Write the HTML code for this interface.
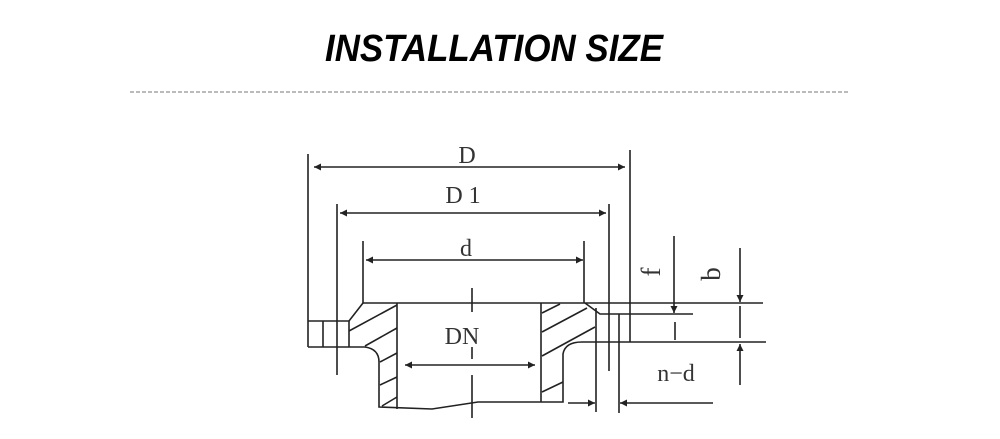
<!DOCTYPE html>
<html><head><style>html,body{margin:0;padding:0;background:#fff}svg{display:block}</style></head><body>
<svg width="1000" height="439" viewBox="0 0 1000 439" xmlns="http://www.w3.org/2000/svg">
<defs>
<marker id="a" viewBox="0 0 10 10" refX="10" refY="5" markerWidth="10" markerHeight="7" orient="auto-start-reverse" markerUnits="userSpaceOnUse"><path d="M0,0 L10,5 L0,10 z" fill="#222"/></marker>
</defs>
<text x="325" y="61" font-family="Liberation Sans, sans-serif" font-weight="bold" font-style="italic" font-size="38" textLength="338" lengthAdjust="spacingAndGlyphs" fill="#000">INSTALLATION SIZE</text>
<line x1="130" y1="92" x2="850" y2="92" stroke="#777" stroke-width="1" stroke-dasharray="4,2"/>
<g stroke="#222" stroke-width="1.6" fill="none">
<line x1="308" y1="154" x2="308" y2="347"/>
<line x1="630" y1="150" x2="630" y2="342"/>
<line x1="337" y1="204" x2="337" y2="375"/>
<line x1="609" y1="204" x2="609" y2="371"/>
<line x1="363" y1="241" x2="363" y2="303"/>
<line x1="584" y1="241" x2="584" y2="303"/>
<line x1="314" y1="167" x2="625" y2="167" marker-start="url(#a)" marker-end="url(#a)"/>
<line x1="340" y1="213" x2="606" y2="213" marker-start="url(#a)" marker-end="url(#a)"/>
<line x1="366" y1="260" x2="583" y2="260" marker-start="url(#a)" marker-end="url(#a)"/>
<line x1="405" y1="365" x2="535" y2="365" marker-start="url(#a)" marker-end="url(#a)"/>
<line x1="363" y1="303" x2="763" y2="303"/>
<polyline points="363,303 349,321 308,321"/>
<line x1="308" y1="347" x2="365" y2="347"/>
<line x1="323" y1="321" x2="323" y2="347"/>
<line x1="349" y1="321" x2="349" y2="347"/>
<path d="M365,347 Q379,349 379,362 L379,407 L432,409 L478,402 L563,402 L563,354 Q565,342 582,342 L766,342"/>
<polyline points="585,303 600,314 693,314"/>
<line x1="397" y1="303" x2="397" y2="409"/>
<line x1="541" y1="303" x2="541" y2="402"/>
<line x1="596" y1="308" x2="596" y2="412"/>
<line x1="619" y1="314" x2="619" y2="413"/>
<line x1="349" y1="331" x2="397" y2="305"/>
<line x1="365" y1="346" x2="397" y2="328"/>
<line x1="380" y1="362" x2="397" y2="353"/>
<line x1="380" y1="385" x2="397" y2="377"/>
<line x1="382" y1="406" x2="397" y2="397"/>
<line x1="542" y1="313" x2="560" y2="304"/>
<line x1="542" y1="332" x2="587" y2="308"/>
<line x1="542" y1="356" x2="595" y2="327"/>
<line x1="542" y1="392" x2="563" y2="382"/>
<line x1="472" y1="288" x2="472" y2="312"/>
<line x1="472" y1="347" x2="472" y2="359"/>
<line x1="472" y1="375" x2="472" y2="418"/>
<line x1="568" y1="403" x2="595" y2="403" marker-end="url(#a)"/>
<line x1="713" y1="403" x2="620" y2="403" marker-end="url(#a)"/>
<line x1="674" y1="236" x2="674" y2="313" marker-end="url(#a)"/>
<line x1="675" y1="322" x2="675" y2="340"/>
<line x1="740" y1="248" x2="740" y2="302" marker-end="url(#a)"/>
<line x1="740" y1="306" x2="740" y2="338"/>
<line x1="740" y1="385" x2="740" y2="344" marker-end="url(#a)"/>
</g>
<g font-family="Liberation Serif, serif" font-size="24" fill="#333" text-anchor="middle">
<text x="467" y="163">D</text>
<text x="463" y="203">D 1</text>
<text x="466" y="256">d</text>
<text x="462" y="344">DN</text>
<text x="676" y="381">n−d</text>
<text transform="translate(660,272) rotate(-90)" font-size="27">f</text>
<text transform="translate(720,274) rotate(-90)" font-size="27">b</text>
</g>
</svg>
</body></html>
